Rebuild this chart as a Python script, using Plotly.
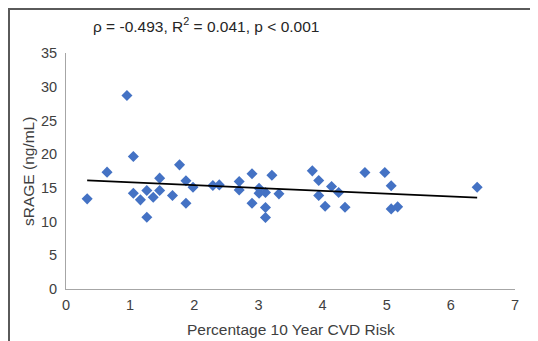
import plotly.graph_objects as go

risk = [0.95, 1.05, 0.64, 0.33, 1.77, 1.46, 1.87, 1.05, 1.16, 1.26, 1.36, 1.46, 1.66, 1.87,
        1.98, 1.26, 2.29, 2.39, 2.70, 2.70, 2.90, 2.90, 3.01, 3.01, 3.11, 3.11, 3.11, 3.21,
        3.32, 3.84, 3.94, 3.94, 4.04, 4.14, 4.25, 4.35, 4.66, 4.97, 5.07, 5.07, 5.17, 6.41]
srage = [28.7, 19.66, 17.33, 13.37, 18.41, 16.44, 16.04, 14.21, 13.22, 14.61, 13.62, 14.61, 13.87, 12.73,
         15.10, 10.65, 15.35, 15.44, 15.95, 14.70, 17.08, 12.73, 14.95, 14.21, 14.32, 12.09, 10.60, 16.88,
         14.11, 17.52, 16.10, 13.87, 12.28, 15.21, 14.32, 12.13, 17.29, 17.29, 15.30, 11.88, 12.18, 15.10]
trend_x = [0.33, 6.41]
trend_y = [16.1, 13.55]
x_ticks = [0, 1, 2, 3, 4, 5, 6, 7]
y_ticks = [0, 5, 10, 15, 20, 25, 30, 35]
stats_text = "ρ = -0.493, R<sup>2</sup> = 0.041, p < 0.001"
x_title = "Percentage 10 Year CVD Risk"
y_title = "sRAGE (ng/mL)"

W, H = 538, 341
ml, mr, mt, mb = 58, 31, 45, 60
pw, ph = W - ml - mr, H - mt - mb


def px(xp):
    return (xp - ml) / pw


def py(yp):
    return (H - mb - yp) / ph


fig = go.Figure()
fig.add_trace(go.Scatter(x=risk, y=srage, mode="markers",
                         marker=dict(symbol="diamond", size=8.5, color="#4472C4"),
                         showlegend=False))
fig.add_trace(go.Scatter(x=trend_x, y=trend_y, mode="lines",
                         line=dict(color="black", width=1.8), showlegend=False))

font = dict(family="Liberation Sans, Arial, sans-serif", size=14.5, color="#404040")
fig.update_layout(
    width=W, height=H,
    margin=dict(l=ml, r=mr, t=mt, b=mb, autoexpand=False),
    paper_bgcolor="white", plot_bgcolor="white",
    font=font,
    xaxis=dict(range=[0, 7], tickvals=x_ticks, showgrid=False, zeroline=False,
               showline=True, linecolor="#A6A6A6", linewidth=1, automargin=False,
               ticks="outside", ticklen=3, tickcolor="rgba(0,0,0,0)"),
    yaxis=dict(range=[0, 35], tickvals=y_ticks, showgrid=False, zeroline=False,
               showline=True, linecolor="#A6A6A6", linewidth=1, automargin=False,
               ticks="outside", ticklen=5, tickcolor="rgba(0,0,0,0)"),
    annotations=[
        dict(text=stats_text, xref="paper", yref="paper",
             x=px(83), y=py(17), xanchor="left", yanchor="middle",
             showarrow=False, font=dict(size=15.5, color="#262626")),
        dict(text=x_title, xref="paper", yref="paper",
             x=px(282.5), y=py(321), xanchor="center", yanchor="middle",
             showarrow=False, font=dict(size=15.5, color="#404040")),
        dict(text=y_title, xref="paper", yref="paper", textangle=-90,
             x=px(20), y=py(164), xanchor="center", yanchor="middle",
             showarrow=False, font=dict(size=15.5, color="#404040")),
    ],
    shapes=[dict(type="rect", xref="paper", yref="paper",
                 x0=px(1), x1=px(W - 1), y0=py(H - 1), y1=py(1),
                 line=dict(color="#5A5A5A", width=2), fillcolor="rgba(0,0,0,0)", layer="below")],
)

fig.write_html("out.html")
